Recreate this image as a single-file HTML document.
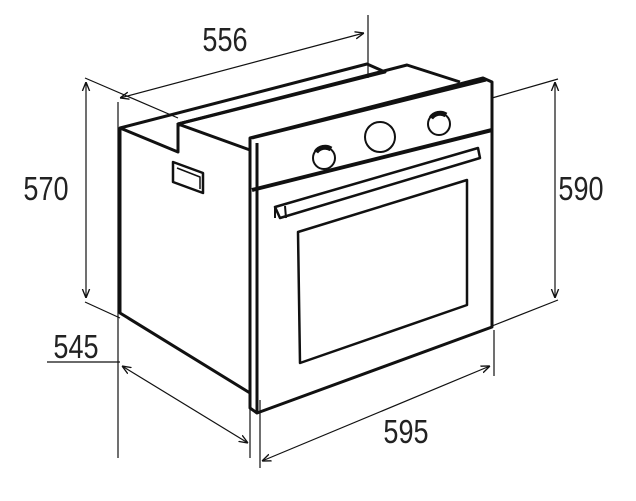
<!DOCTYPE html>
<html><head><style>
html,body{margin:0;padding:0;background:#fff;}
svg{display:block}
text{font-family:"Liberation Sans",sans-serif;font-size:33px;fill:#222;}
</style></head><body>
<svg width="636" height="501" viewBox="0 0 636 501" xmlns="http://www.w3.org/2000/svg">
<defs>
<marker id="a" viewBox="0 0 10 10" refX="10" refY="5" markerWidth="9" markerHeight="9" orient="auto-start-reverse" markerUnits="userSpaceOnUse"><path d="M0,1 L10,5 L0,9" fill="none" stroke="#111" stroke-width="1.5"/></marker>
</defs>
<g fill="none" stroke="#111" stroke-linejoin="round">
<g stroke-width="1.2">
<line x1="120" y1="98" x2="364" y2="33" marker-start="url(#a)" marker-end="url(#a)"/>
<line x1="368" y1="15" x2="368" y2="78"/>
<line x1="118" y1="102" x2="118" y2="458"/>
<line x1="86" y1="82" x2="86" y2="298" marker-start="url(#a)" marker-end="url(#a)"/>
<line x1="85" y1="78" x2="178" y2="118"/>
<line x1="85" y1="302" x2="120" y2="318"/>
<line x1="555" y1="82" x2="555" y2="298" marker-start="url(#a)" marker-end="url(#a)"/>
<line x1="492" y1="98" x2="558" y2="79"/>
<line x1="492" y1="326" x2="558" y2="300"/>
<line x1="47" y1="362" x2="120" y2="362"/>
<line x1="122" y1="366" x2="248" y2="443" marker-start="url(#a)" marker-end="url(#a)"/>
<line x1="250" y1="395" x2="250" y2="458"/>
<line x1="260" y1="400" x2="260" y2="468"/>
<line x1="262" y1="461" x2="490" y2="366" marker-start="url(#a)" marker-end="url(#a)"/>
<line x1="494" y1="330" x2="494" y2="376"/>
</g>
<g stroke-width="3">
<polygon points="120,128 120,313 250,393 250,150 178,124 178,152" />
<polyline points="120,128 367,64 385,72 178,124"/>
<polyline points="178,124 407,65 460,82"/>
<polyline points="178,152 178,123"/>
<polygon points="250,138 483,78 492,82 492,327 257,413 250,408"/>
<line x1="257" y1="143" x2="257" y2="413"/>
<line x1="252" y1="190" x2="492" y2="130" stroke-width="4"/>
<line x1="252" y1="138" x2="486" y2="80"/>
<polygon points="173,162 203,173 203,193 173,182" stroke-width="2.5"/>
<polyline points="177,168 200,177 200,189" stroke-width="1.5"/>
<polygon points="275,207 478,148 480,158 280,218" stroke-width="2.5"/>
<line x1="275" y1="207" x2="275" y2="218" stroke-width="2"/>
<line x1="285" y1="206" x2="286" y2="218" stroke-width="2"/>
<polygon points="298,232 467,180 467,305 300,363" stroke-width="2.5"/>
<circle cx="324" cy="158" r="11" stroke-width="2"/>
<path d="M316,152 a11,11 0 0 1 15,-3" stroke-width="5"/>
<circle cx="380" cy="137" r="15" stroke-width="2"/>
<circle cx="439" cy="124" r="11" stroke-width="2"/>
<path d="M431,118 a11,11 0 0 1 15,-3" stroke-width="5"/>
</g>
</g>
<text x="225" y="51" text-anchor="middle" transform="translate(225 0) scale(0.82 1) translate(-225 0)">556</text>
<text x="46" y="200" text-anchor="middle" transform="translate(46 0) scale(0.82 1) translate(-46 0)">570</text>
<text x="581" y="200" text-anchor="middle" transform="translate(581 0) scale(0.82 1) translate(-581 0)">590</text>
<text x="76" y="358" text-anchor="middle" transform="translate(76 0) scale(0.82 1) translate(-76 0)">545</text>
<text x="406" y="443" text-anchor="middle" transform="translate(406 0) scale(0.82 1) translate(-406 0)">595</text>
</svg>
</body></html>
